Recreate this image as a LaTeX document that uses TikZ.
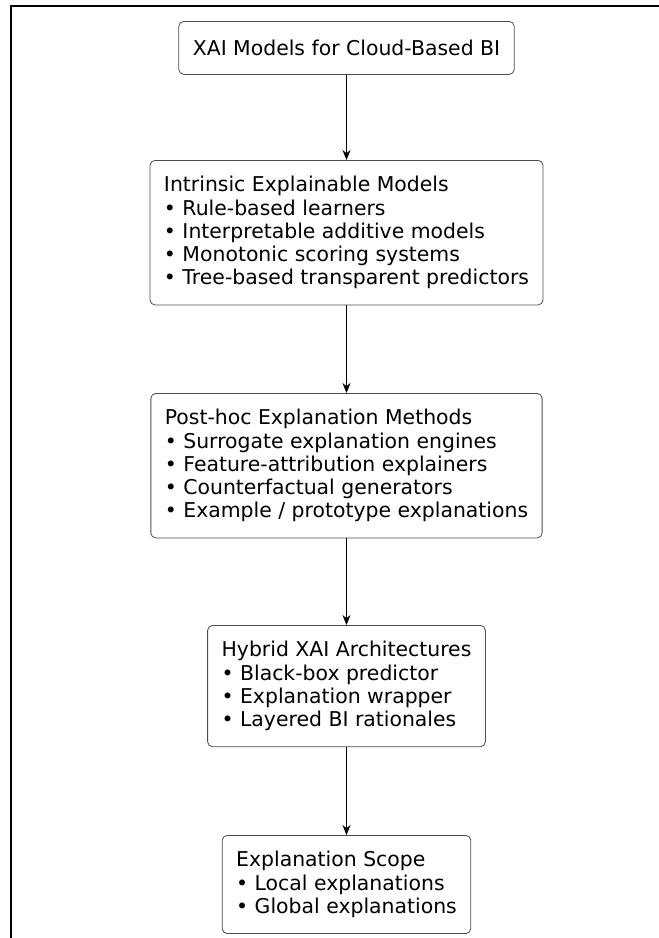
\documentclass[tikz,border=0pt]{standalone}
\usepackage{fontspec}
\setmainfont{DejaVu Sans}
\usetikzlibrary{arrows.meta}
\begin{document}
\begin{tikzpicture}[x=1pt,y=-1pt,
  stagebox/.style={draw=black!70, line width=0.8pt, rounded corners=5pt,
    align=left, inner xsep=14pt, inner ysep=16pt, anchor=north,
    font=\fontsize{20.4}{23.2}\selectfont},
  flow/.style={-{Stealth[length=10pt,width=8pt]}, line width=1.1pt}]
\useasboundingbox (0,0) rectangle (659,938);
% page frame (top and left edges)
\draw[line width=2pt] (10,5.5) -- (659,5.5);
\draw[line width=2pt] (11,4.5) -- (11,938);

\node[stagebox, minimum height=53pt] (top) at (346.5,21) {XAI Models for Cloud-Based BI};
\node[stagebox] (intr) at (346.5,160) {Intrinsic Explainable Models\\
  • Rule-based learners\\
  • Interpretable additive models\\
  • Monotonic scoring systems\\
  • Tree-based transparent predictors};
\node[stagebox] (post) at (346.5,393) {Post-hoc Explanation Methods\\
  • Surrogate explanation engines\\
  • Feature-attribution explainers\\
  • Counterfactual generators\\
  • Example / prototype explanations};
\node[stagebox] (hyb) at (346.5,625) {Hybrid XAI Architectures\\
  • Black-box predictor\\
  • Explanation wrapper\\
  • Layered BI rationales};
\node[stagebox] (scope) at (346.5,835) {Explanation Scope\\
  • Local explanations\\
  • Global explanations};

\draw[flow] (top) -- (intr);
\draw[flow] (intr) -- (post);
\draw[flow] (post) -- (hyb);
\draw[flow] (hyb) -- (scope);
\end{tikzpicture}
\end{document}
